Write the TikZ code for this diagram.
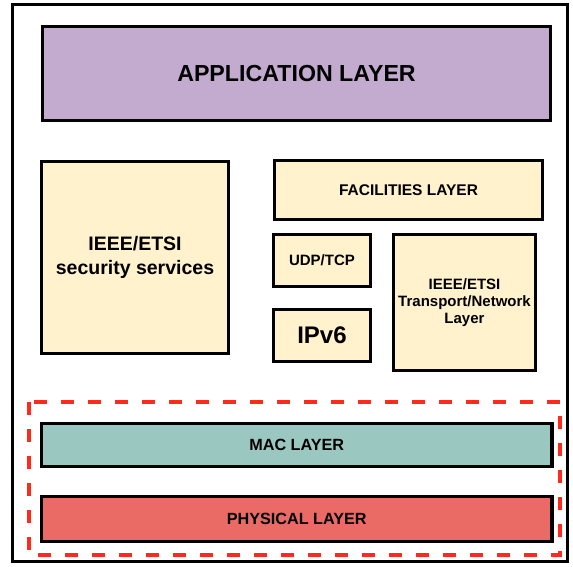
\documentclass[tikz,border=0pt]{standalone}
\usepackage{fontspec}
\setmainfont{Liberation Sans}
\definecolor{appc}{HTML}{C3ABD0}
\definecolor{yelc}{HTML}{FFF2CC}
\definecolor{macc}{HTML}{9AC7BF}
\definecolor{phyc}{HTML}{EA6B66}
\definecolor{dashc}{HTML}{FF2A1A}
\tikzset{
  layerbox/.style={draw=black, line width=3.5pt, rectangle, inner sep=0pt, align=center, font=\bfseries}
}
\begin{document}
\begin{tikzpicture}[x=1pt,y=-1pt]
\useasboundingbox (0,0) rectangle (573,566);
\fill[white] (0,0) rectangle (573,566);
\draw[line width=3pt] (12,4) rectangle (567,561);
\node[layerbox, fill=appc, minimum width=508pt, minimum height=94pt, font=\fontsize{23.2}{27}\selectfont\bfseries] (app) at (296.5,73.5) {APPLICATION LAYER};
\node[layerbox, fill=yelc, minimum width=187pt, minimum height=192pt, font=\fontsize{19.5}{24.5}\selectfont\bfseries] (sec) at (135,257.5) {IEEE/ETSI\\security services};
\node[layerbox, fill=yelc, minimum width=268pt, minimum height=59pt, font=\fontsize{15.5}{18}\selectfont\bfseries] (fac) at (408.5,190) {FACILITIES LAYER};
\node[layerbox, fill=yelc, minimum width=97pt, minimum height=52pt, font=\fontsize{15}{18}\selectfont\bfseries] (udp) at (322,260.5) {UDP/TCP};
\node[layerbox, fill=yelc, minimum width=97pt, minimum height=52pt, font=\fontsize{24}{28}\selectfont\bfseries] (ipv6) at (322,335.5) {IPv6};
\node[layerbox, fill=yelc, minimum width=142pt, minimum height=136pt, font=\fontsize{15}{17}\selectfont\bfseries] (trans) at (464.5,302.5) {IEEE/ETSI\\Transport/Network\\Layer};
\node[layerbox, fill=macc, minimum width=510.5pt, minimum height=43pt, font=\fontsize{16.2}{19}\selectfont\bfseries] (mac) at (296.75,445) {MAC LAYER};
\node[layerbox, fill=phyc, minimum width=510.5pt, minimum height=45pt, font=\fontsize{16.2}{19}\selectfont\bfseries] (phy) at (296.75,519) {PHYSICAL LAYER};
\draw[dashc, line width=4pt, dash pattern=on 13pt off 14pt] (29,402) rectangle (560,555);
\end{tikzpicture}
\end{document}
